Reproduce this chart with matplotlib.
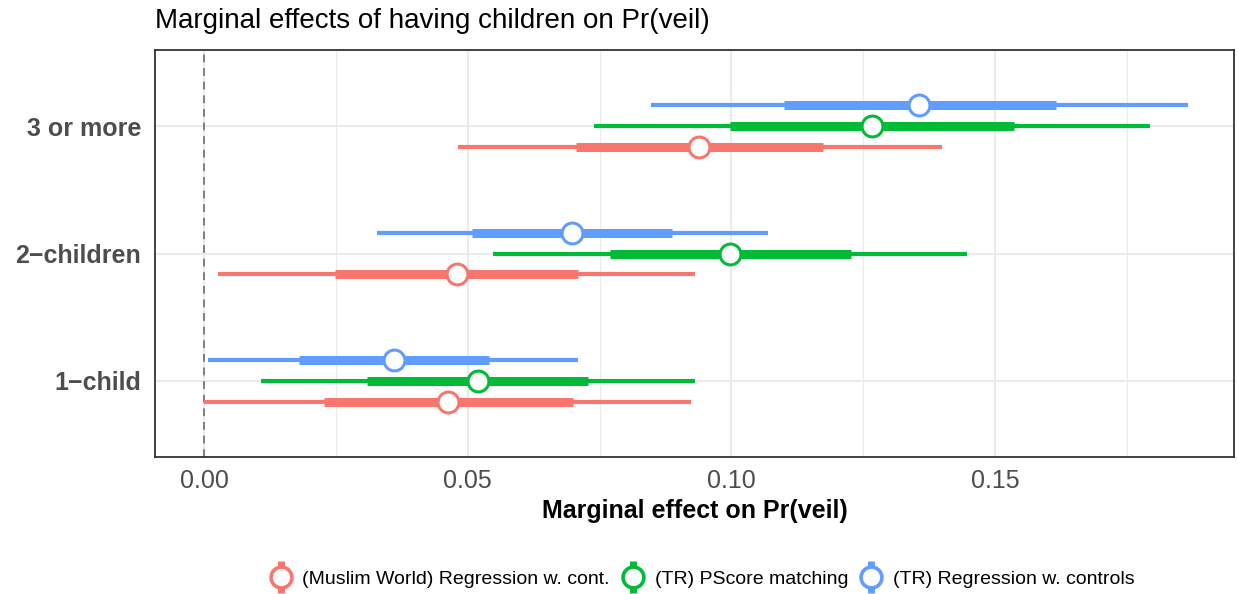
import matplotlib.pyplot as plt
from matplotlib.lines import Line2D
from matplotlib.legend_handler import HandlerTuple
import numpy as np

plt.rcParams['font.family'] = ['Liberation Sans', 'DejaVu Sans']

# Données
categories = ['1\u2212child', '2\u2212children', '3 or more']
models = ['(Muslim World) Regression w. cont.', '(TR) PScore matching', '(TR) Regression w. controls']
colors = ['#F8766D', '#00BA38', '#619CFF']

estimate = {
    models[0]: [0.0462, 0.0479, 0.0939],
    models[1]: [0.0519, 0.0998, 0.1267],
    models[2]: [0.0360, 0.0697, 0.1356],
}
ci90_low = {
    models[0]: [0.0227, 0.0248, 0.0706],
    models[1]: [0.0309, 0.0769, 0.0998],
    models[2]: [0.0180, 0.0509, 0.1099],
}
ci90_high = {
    models[0]: [0.0699, 0.0710, 0.1174],
    models[1]: [0.0729, 0.1227, 0.1536],
    models[2]: [0.0540, 0.0888, 0.1616],
}
ci95_low = {
    models[0]: [0.0000, 0.0027, 0.0481],
    models[1]: [0.0108, 0.0547, 0.0739],
    models[2]: [0.0008, 0.0328, 0.0848],
}
ci95_high = {
    models[0]: [0.0924, 0.0930, 0.1400],
    models[1]: [0.0930, 0.1447, 0.1794],
    models[2]: [0.0710, 0.1070, 0.1866],
}

fig = plt.figure(figsize=(12.38, 5.94), dpi=100)
ax = fig.add_axes([155 / 1238, 1 - 457 / 594, (1234 - 155) / 1238, (457 - 50) / 594])

dodge = [-0.165, 0.0, 0.165]
ypos = np.arange(1, len(categories) + 1)

ax.axvline(0, color='#7f7f7f', linestyle=(0, (4, 3)), linewidth=1.4, zorder=2)

for m, col, d in zip(models, colors, dodge):
    y = ypos + d
    ax.hlines(y, ci95_low[m], ci95_high[m], color=col, linewidth=3.0, zorder=3)
    ax.hlines(y, ci90_low[m], ci90_high[m], color=col, linewidth=6.5, zorder=4)
    ax.plot(estimate[m], y, 'o', markersize=15, markerfacecolor='white',
            markeredgecolor=col, markeredgewidth=2.2, zorder=5)

ax.set_xlim(-0.0093, 0.1953)
ax.set_ylim(0.4, 3.6)
ax.set_xticks([0, 0.05, 0.10, 0.15])
ax.set_xticklabels(['0.00', '0.05', '0.10', '0.15'])
ax.set_xticks([0.025, 0.075, 0.125, 0.175], minor=True)
ax.set_yticks(ypos)
ax.set_yticklabels(categories, fontweight='bold')
ax.tick_params(axis='x', which='major', labelsize=18, labelcolor='#4d4d4d', length=0, pad=9)
ax.tick_params(axis='x', which='minor', length=0)
ax.tick_params(axis='y', labelsize=18, labelcolor='#4d4d4d', length=0, pad=10)
ax.grid(True, which='major', color='#ebebeb', linewidth=1.5, zorder=0)
ax.grid(True, which='minor', axis='x', color='#ebebeb', linewidth=0.8, zorder=0)
ax.set_axisbelow(True)
for s in ax.spines.values():
    s.set_color('#333333')
    s.set_linewidth(1.3)

ax.set_xlabel('Marginal effect on Pr(veil)', fontsize=18, fontweight='bold', labelpad=4)
fig.text(155 / 1238, 1 - 21 / 594, 'Marginal effects of having children on Pr(veil)',
         fontsize=20, ha='left', va='center')

# Légende : trait vertical + cercle superposés
handles = []
for col in colors:
    vline = Line2D([], [], color=col, marker='|', linestyle='None', markersize=23, markeredgewidth=5)
    circ = Line2D([], [], color=col, marker='o', linestyle='None', markersize=15,
                  markerfacecolor='white', markeredgewidth=2.6)
    handles.append((vline, circ))
fig.legend(handles, models, handler_map={tuple: HandlerTuple(ndivide=1)},
           loc='center', bbox_to_anchor=(0.567, 1 - 579 / 594), ncol=3, frameon=False,
           fontsize=14, handlelength=1.2, handletextpad=0.5, columnspacing=0.6)

plt.savefig('out.png', dpi=100)
